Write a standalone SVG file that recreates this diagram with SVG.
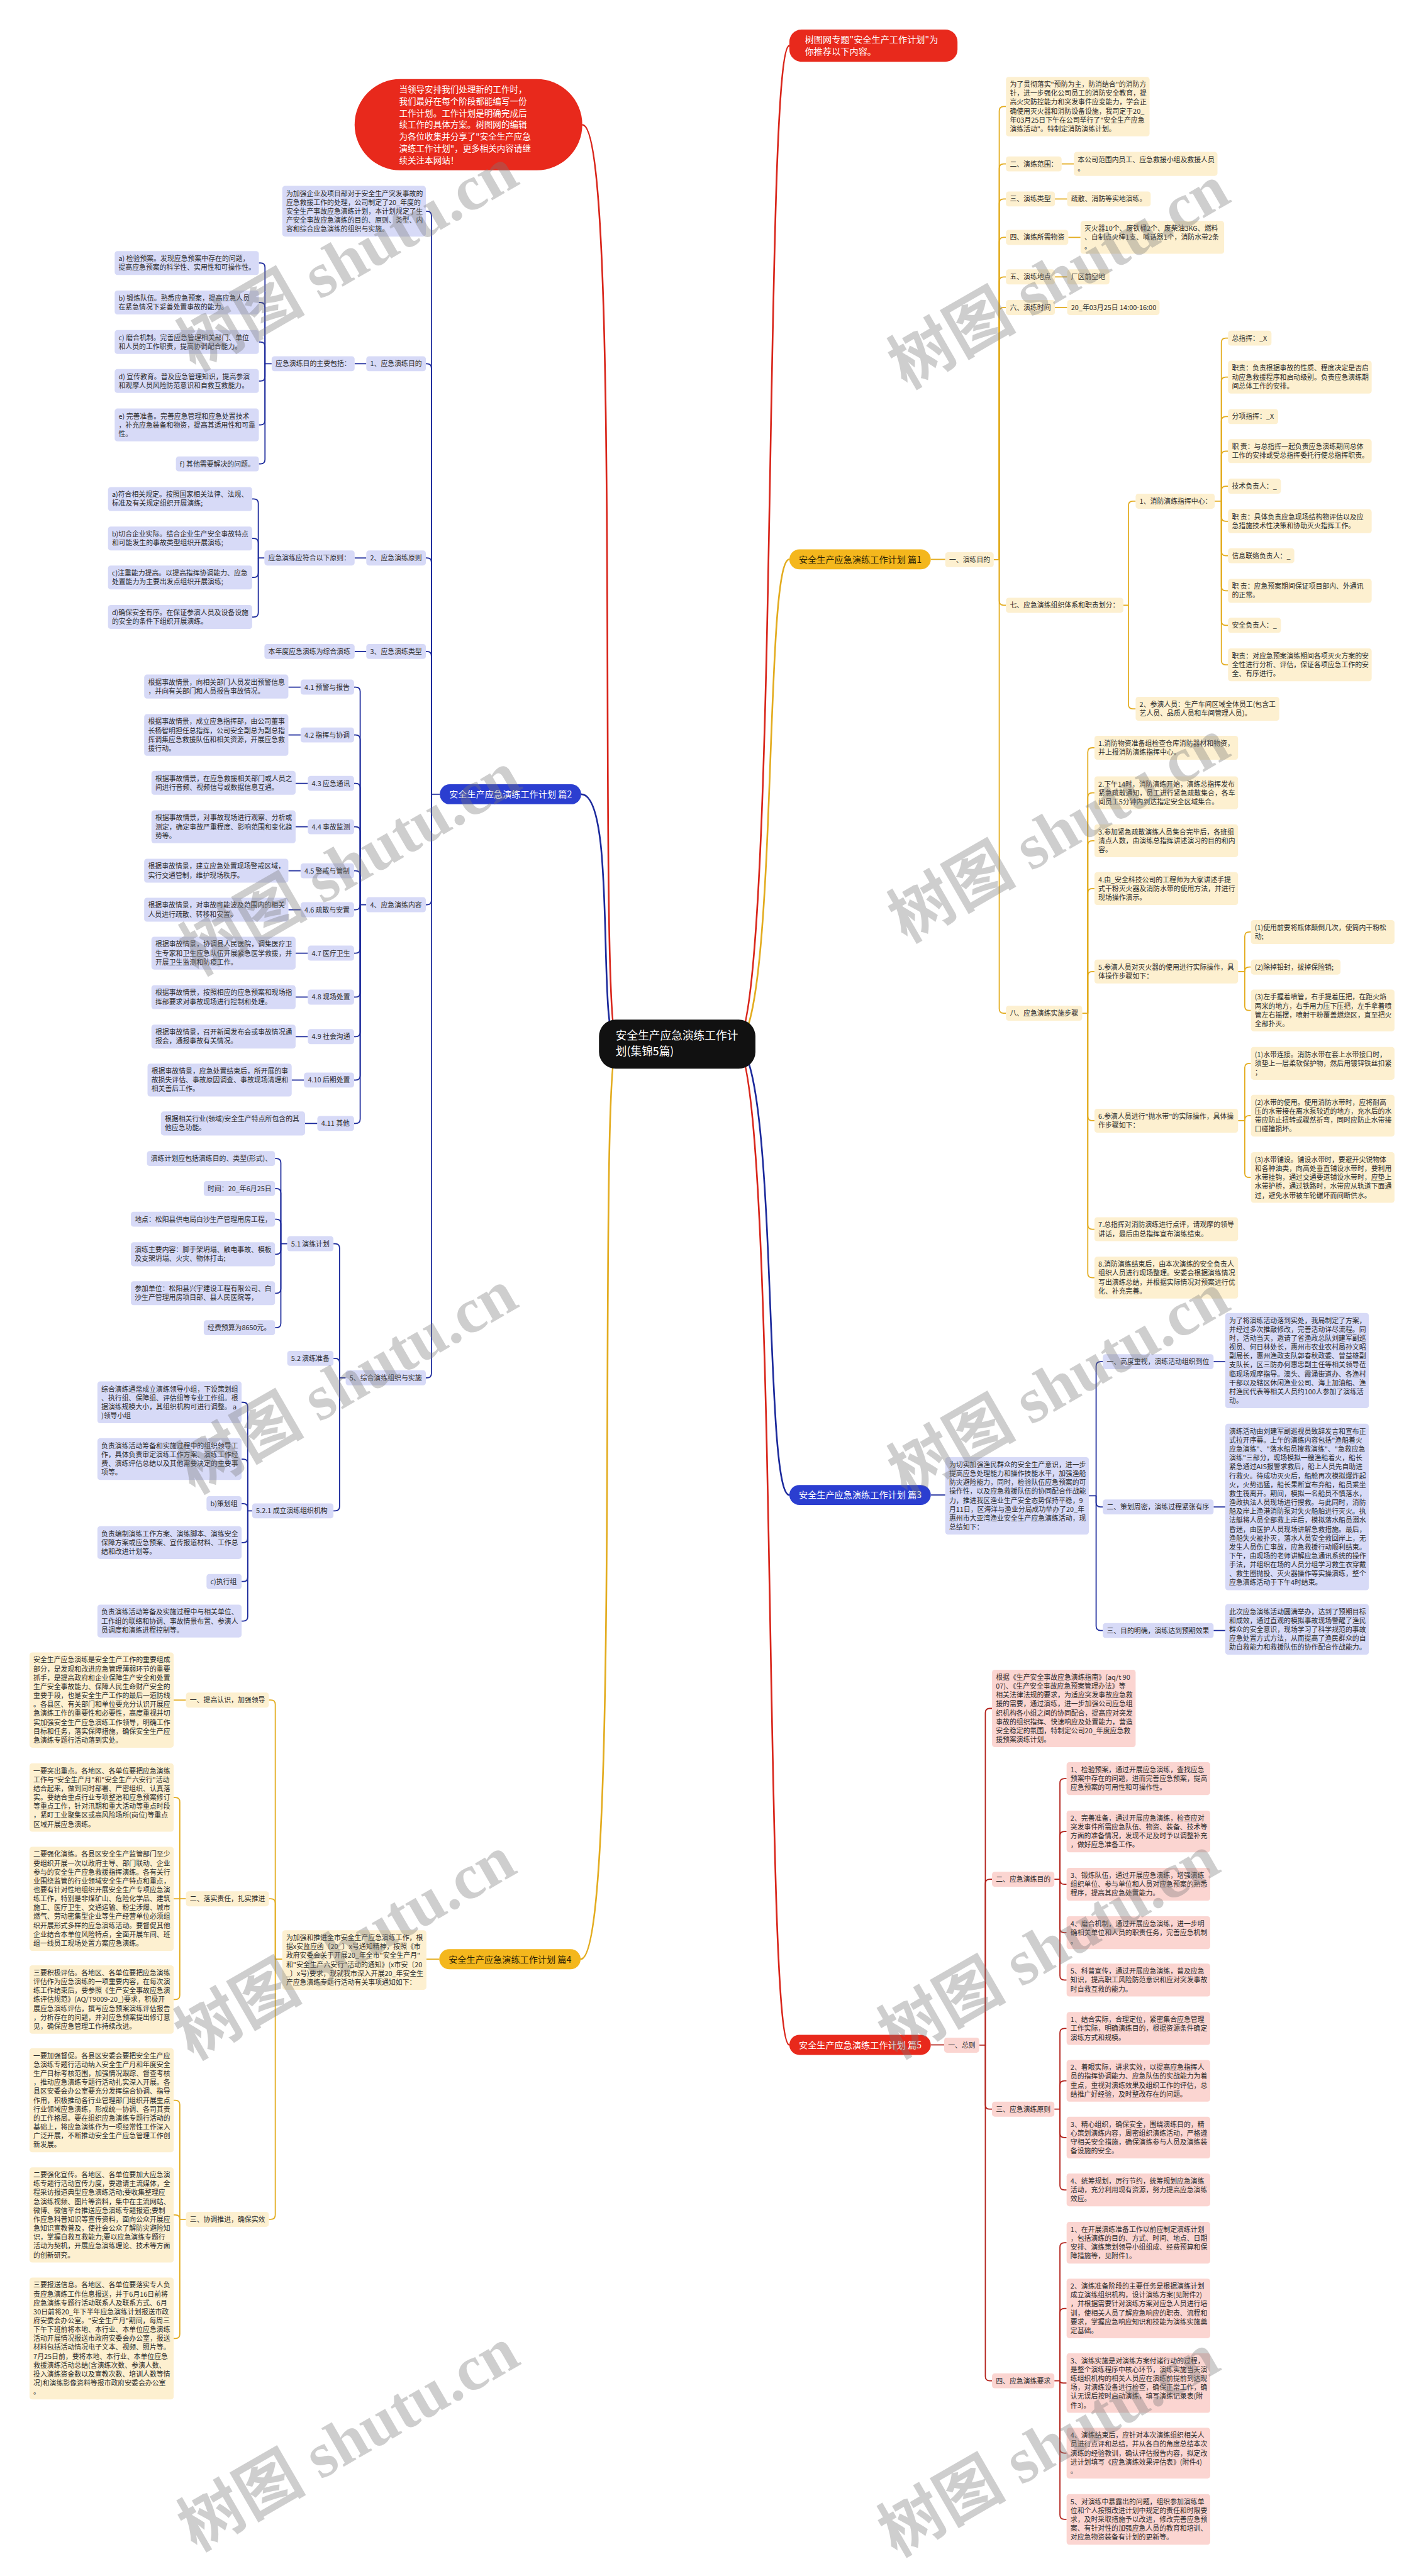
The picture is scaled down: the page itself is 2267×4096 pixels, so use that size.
<svg xmlns="http://www.w3.org/2000/svg" width="2267" height="4096" viewBox="0 0 2267 4096">
<style>
.t{font-family:"Noto Sans CJK SC","Noto Sans",sans-serif;font-size:12.3px;fill:#2b2b2b}
.h{font-family:"Noto Sans CJK SC","Noto Sans",sans-serif;font-size:16px}
.rt{font-family:"Noto Sans CJK SC","Noto Sans",sans-serif;font-size:20px;fill:#fff}
.ct{font-family:"Noto Sans CJK SC","Noto Sans",sans-serif;font-size:15.3px;fill:#fff}
rect.y{fill:#fdf0d0}
rect.b{fill:#d7daf7}
rect.p{fill:#fbd5d1}
.ly{fill:none;stroke:#e3ac1f;stroke-width:2}
.lb{fill:none;stroke:#1c2a9c;stroke-width:2}
.lp{fill:none;stroke:#b3211b;stroke-width:2}
.lr{fill:none;stroke:#d9261b;stroke-width:2}
.m{stroke-width:3}
.wm{font-family:"Liberation Serif","Noto Sans CJK SC",serif;font-size:115px;font-weight:bold;fill:#7a7a7a;opacity:.36}
</style>
<rect x="0" y="0" width="2267" height="4096" fill="#fff"/>
<g transform="scale(0.885)">
<g id="connectors">
<path class="lr m" d="M1320,1876 C1400,1876 1370,82 1418,82"/>
<path class="lr m" d="M1110,1876 C1070,1876 1120,224 1046,224"/>
<path class="ly m" d="M1320,1876 C1400,1876 1370,1005 1418,1005"/>
<path class="ly m" d="M1110,1876 C1070,1876 1120,3520 1043,3520"/>
<path class="lb m" d="M1110,1876 C1070,1876 1110,1427 1044,1427"/>
<path class="lb m" d="M1320,1876 C1400,1876 1370,2686 1418,2686"/>
<path class="lr m" d="M1320,1876 C1400,1876 1370,3674 1418,3674"/>
<path class="ly" d="M1672,1005 H1698"/>
<path class="ly" d="M1785,1005.5 H1795 V199.5 Q1795,191.5 1803,191.5 H1807"/>
<path class="ly" d="M1795,1005.5 V302.5 Q1795,294.5 1803,294.5 H1807"/>
<path class="ly" d="M1795,1005.5 V365.5 Q1795,357.5 1803,357.5 H1807"/>
<path class="ly" d="M1795,1005.5 V434.5 Q1795,426.5 1803,426.5 H1807"/>
<path class="ly" d="M1795,1005.5 V505.5 Q1795,497.5 1803,497.5 H1807"/>
<path class="ly" d="M1795,1005.5 V560.5 Q1795,552.5 1803,552.5 H1807"/>
<path class="ly" d="M1795,1005.5 V1079.5 Q1795,1087.5 1803,1087.5 H1807"/>
<path class="ly" d="M1795,1005.5 V1812.5 Q1795,1820.5 1803,1820.5 H1807"/>
<path class="ly" d="M1907,294.5 H1929"/>
<path class="ly" d="M1895,357.5 H1917"/>
<path class="ly" d="M1919,426.5 H1941"/>
<path class="ly" d="M1895,497.5 H1917"/>
<path class="ly" d="M1895,552.5 H1917"/>
<path class="ly" d="M2018,1087.5 H2027 V908.5 Q2027,900.5 2035,900.5 H2040"/>
<path class="ly" d="M2027,1087.5 V1265.5 Q2027,1273.5 2035,1273.5 H2040"/>
<path class="ly" d="M2182,900.5 H2194 V615.5 Q2194,607.5 2202,607.5 H2206"/>
<path class="ly" d="M2194,900.5 V685.5 Q2194,677.5 2202,677.5 H2206"/>
<path class="ly" d="M2194,900.5 V756.5 Q2194,748.5 2202,748.5 H2206"/>
<path class="ly" d="M2194,900.5 V818.5 Q2194,810.5 2202,810.5 H2206"/>
<path class="ly" d="M2194,900.5 V881.5 Q2194,873.5 2202,873.5 H2206"/>
<path class="ly" d="M2194,900.5 V928.5 Q2194,936.5 2202,936.5 H2206"/>
<path class="ly" d="M2194,900.5 V990.5 Q2194,998.5 2202,998.5 H2206"/>
<path class="ly" d="M2194,900.5 V1053.5 Q2194,1061.5 2202,1061.5 H2206"/>
<path class="ly" d="M2194,900.5 V1115.5 Q2194,1123.5 2202,1123.5 H2206"/>
<path class="ly" d="M2194,900.5 V1186.5 Q2194,1194.5 2202,1194.5 H2206"/>
<path class="ly" d="M1944,1820.5 H1954 V1351.5 Q1954,1343.5 1962,1343.5 H1966"/>
<path class="ly" d="M1954,1820.5 V1432.5 Q1954,1424.5 1962,1424.5 H1966"/>
<path class="ly" d="M1954,1820.5 V1518.5 Q1954,1510.5 1962,1510.5 H1966"/>
<path class="ly" d="M1954,1820.5 V1604.5 Q1954,1596.5 1962,1596.5 H1966"/>
<path class="ly" d="M1954,1820.5 V1753.5 Q1954,1745.5 1962,1745.5 H1966"/>
<path class="ly" d="M1954,1820.5 V2005.5 Q1954,2013.5 1962,2013.5 H1966"/>
<path class="ly" d="M1954,1820.5 V2200.5 Q1954,2208.5 1962,2208.5 H1966"/>
<path class="ly" d="M1954,1820.5 V2287.5 Q1954,2295.5 1962,2295.5 H1966"/>
<path class="ly" d="M2224,1745.5 H2236 V1682.5 Q2236,1674.5 2244,1674.5 H2247"/>
<path class="ly" d="M2236,1745.5 Q2236,1737.5 2244,1737.5 H2247"/>
<path class="ly" d="M2236,1745.5 V1807.5 Q2236,1815.5 2244,1815.5 H2247"/>
<path class="ly" d="M2224,2013.5 H2236 V1918.5 Q2236,1910.5 2244,1910.5 H2247"/>
<path class="ly" d="M2236,2013.5 Q2236,2004.5 2244,2004.5 H2247"/>
<path class="ly" d="M2236,2013.5 V2107.5 Q2236,2115.5 2244,2115.5 H2247"/>
<path class="ly" d="M789,3520 H766"/>
<path class="ly" d="M507,3520 H494.5 V3062.5 Q494.5,3054.5 486.5,3054.5 H483"/>
<path class="ly" d="M494.5,3520 V3419.5 Q494.5,3411.5 486.5,3411.5 H483"/>
<path class="ly" d="M494.5,3520 V3979.5 Q494.5,3987.5 486.5,3987.5 H483"/>
<path class="ly" d="M334,3054.5 H312"/>
<path class="ly" d="M334,3411.5 H323 V3237.5 Q323,3229.5 315,3229.5 H312"/>
<path class="ly" d="M323,3411.5 H312"/>
<path class="ly" d="M323,3411.5 V3584.5 Q323,3592.5 315,3592.5 H312"/>
<path class="ly" d="M334,3987.5 H323 V3781.5 Q323,3773.5 315,3773.5 H312"/>
<path class="ly" d="M323,3987.5 Q323,3979.5 315,3979.5 H312"/>
<path class="ly" d="M323,3987.5 V4193.5 Q323,4201.5 315,4201.5 H312"/>
<path class="lb" d="M1672,2686 H1698"/>
<path class="lb" d="M1956,2687.5 H1969 V2454.5 Q1969,2446.5 1977,2446.5 H1981"/>
<path class="lb" d="M1969,2687.5 V2699.5 Q1969,2707.5 1977,2707.5 H1981"/>
<path class="lb" d="M1969,2687.5 V2921.5 Q1969,2929.5 1977,2929.5 H1981"/>
<path class="lb" d="M2180,2446.5 H2201"/>
<path class="lb" d="M2180,2707.5 H2201"/>
<path class="lb" d="M2180,2929.5 H2201"/>
<path class="lb" d="M790,1427 H775 V387.5 Q775,379.5 767,379.5 H765"/>
<path class="lb" d="M775,1427 V661.5 Q775,653.5 767,653.5 H765"/>
<path class="lb" d="M775,1427 V1010.5 Q775,1002.5 767,1002.5 H765"/>
<path class="lb" d="M775,1427 V1178.5 Q775,1170.5 767,1170.5 H765"/>
<path class="lb" d="M775,1427 V1617.5 Q775,1625.5 767,1625.5 H765"/>
<path class="lb" d="M775,1427 V2467.5 Q775,2475.5 767,2475.5 H765"/>
<path class="lb" d="M658,653.5 H637"/>
<path class="lb" d="M488,653.5 H476 V480.5 Q476,472.5 468,472.5 H465"/>
<path class="lb" d="M476,653.5 V551.5 Q476,543.5 468,543.5 H465"/>
<path class="lb" d="M476,653.5 V622.5 Q476,614.5 468,614.5 H465"/>
<path class="lb" d="M476,653.5 V676.5 Q476,684.5 468,684.5 H465"/>
<path class="lb" d="M476,653.5 V755.5 Q476,763.5 468,763.5 H465"/>
<path class="lb" d="M476,653.5 V825.5 Q476,833.5 468,833.5 H465"/>
<path class="lb" d="M658,1002.5 H637"/>
<path class="lb" d="M475,1002.5 H464 V904.5 Q464,896.5 456,896.5 H453"/>
<path class="lb" d="M464,1002.5 V975.5 Q464,967.5 456,967.5 H453"/>
<path class="lb" d="M464,1002.5 V1029.5 Q464,1037.5 456,1037.5 H453"/>
<path class="lb" d="M464,1002.5 V1100.5 Q464,1108.5 456,1108.5 H453"/>
<path class="lb" d="M658,1170.5 H637"/>
<path class="lb" d="M658,1625.5 H647 V1242.5 Q647,1234.5 639,1234.5 H636"/>
<path class="lb" d="M647,1625.5 V1328.5 Q647,1320.5 639,1320.5 H636"/>
<path class="lb" d="M647,1625.5 V1415.5 Q647,1407.5 639,1407.5 H636"/>
<path class="lb" d="M647,1625.5 V1493.5 Q647,1485.5 639,1485.5 H636"/>
<path class="lb" d="M647,1625.5 V1572.5 Q647,1564.5 639,1564.5 H636"/>
<path class="lb" d="M647,1625.5 Q647,1634.5 639,1634.5 H636"/>
<path class="lb" d="M647,1625.5 V1704.5 Q647,1712.5 639,1712.5 H636"/>
<path class="lb" d="M647,1625.5 V1783.5 Q647,1791.5 639,1791.5 H636"/>
<path class="lb" d="M647,1625.5 V1854.5 Q647,1862.5 639,1862.5 H636"/>
<path class="lb" d="M647,1625.5 V1932.5 Q647,1940.5 639,1940.5 H636"/>
<path class="lb" d="M647,1625.5 V2010.5 Q647,2018.5 639,2018.5 H636"/>
<path class="lb" d="M540,1234.5 H518 M540,1320.5 H518 M553,1407.5 H531 M553,1485.5 H531 M540,1564.5 H518 M540,1634.5 H518 M553,1712.5 H531 M553,1791.5 H531 M553,1862.5 H531 M546,1940.5 H524 M570,2018.5 H548"/>
<path class="lb" d="M621,2475.5 H610 V2242.5 Q610,2234.5 602,2234.5 H599"/>
<path class="lb" d="M610,2475.5 V2448.5 Q610,2440.5 602,2440.5 H599"/>
<path class="lb" d="M610,2475.5 V2706.5 Q610,2714.5 602,2714.5 H599"/>
<path class="lb" d="M516,2234.5 H504.5 V2089.5 Q504.5,2081.5 496.5,2081.5 H494"/>
<path class="lb" d="M504.5,2234.5 V2143.5 Q504.5,2135.5 496.5,2135.5 H494"/>
<path class="lb" d="M504.5,2234.5 V2198.5 Q504.5,2190.5 496.5,2190.5 H494"/>
<path class="lb" d="M504.5,2234.5 V2245.5 Q504.5,2253.5 496.5,2253.5 H494"/>
<path class="lb" d="M504.5,2234.5 V2315.5 Q504.5,2323.5 496.5,2323.5 H494"/>
<path class="lb" d="M504.5,2234.5 V2377.5 Q504.5,2385.5 496.5,2385.5 H494"/>
<path class="lb" d="M453,2714.5 H445 V2527.5 Q445,2519.5 437,2519.5 H434"/>
<path class="lb" d="M445,2714.5 V2629.5 Q445,2621.5 437,2621.5 H434"/>
<path class="lb" d="M445,2714.5 V2709.5 Q445,2701.5 437,2701.5 H434"/>
<path class="lb" d="M445,2714.5 V2763.5 Q445,2771.5 437,2771.5 H434"/>
<path class="lb" d="M445,2714.5 V2833.5 Q445,2841.5 437,2841.5 H434"/>
<path class="lb" d="M445,2714.5 V2904.5 Q445,2912.5 437,2912.5 H434"/>
<path class="lp" d="M1672,3674 H1696"/>
<path class="lp" d="M1759,3674.5 H1770 V3077.5 Q1770,3069.5 1778,3069.5 H1782"/>
<path class="lp" d="M1770,3674.5 V3384.5 Q1770,3376.5 1778,3376.5 H1782"/>
<path class="lp" d="M1770,3674.5 V3781.5 Q1770,3789.5 1778,3789.5 H1782"/>
<path class="lp" d="M1770,3674.5 V4269.5 Q1770,4277.5 1778,4277.5 H1782"/>
<path class="lp" d="M1894,3376.5 H1904 V3203.5 Q1904,3195.5 1912,3195.5 H1916"/>
<path class="lp" d="M1904,3376.5 V3298.5 Q1904,3290.5 1912,3290.5 H1916"/>
<path class="lp" d="M1904,3376.5 Q1904,3385.5 1912,3385.5 H1916"/>
<path class="lp" d="M1904,3376.5 V3464.5 Q1904,3472.5 1912,3472.5 H1916"/>
<path class="lp" d="M1904,3376.5 V3549.5 Q1904,3557.5 1912,3557.5 H1916"/>
<path class="lp" d="M1894,3789.5 H1904 V3652.5 Q1904,3644.5 1912,3644.5 H1916"/>
<path class="lp" d="M1904,3789.5 V3746.5 Q1904,3738.5 1912,3738.5 H1916"/>
<path class="lp" d="M1904,3789.5 V3832.5 Q1904,3840.5 1912,3840.5 H1916"/>
<path class="lp" d="M1904,3789.5 V3926.5 Q1904,3934.5 1912,3934.5 H1916"/>
<path class="lp" d="M1894,4277.5 H1904 V4037.5 Q1904,4029.5 1912,4029.5 H1916"/>
<path class="lp" d="M1904,4277.5 V4155.5 Q1904,4147.5 1912,4147.5 H1916"/>
<path class="lp" d="M1904,4277.5 Q1904,4281.5 1910,4281.5 H1916"/>
<path class="lp" d="M1904,4277.5 V4399.5 Q1904,4407.5 1912,4407.5 H1916"/>
<path class="lp" d="M1904,4277.5 V4518.5 Q1904,4526.5 1912,4526.5 H1916"/>
</g>

<g id="root"><rect x="1076" y="1832" width="281" height="88" rx="30" fill="#111"/><text class="rt" x="1106" y="1868">安全生产应急演练工作计</text><text class="rt" x="1106" y="1896">划(集锦5篇)</text></g>

<g id="top-red"><rect x="1418" y="53" width="302" height="58" rx="22" fill="#e8291c"/><text class="h" fill="#fff" x="1446" y="77">树图网专题"安全生产工作计划"为</text><text class="h" fill="#fff" x="1446" y="98">你推荐以下内容。</text></g>

<g id="left-red"><rect x="637" y="142" width="409" height="164" rx="82" fill="#e8291c"/>
<text class="ct"><tspan x="717" y="166">当领导安排我们处理新的工作时，</tspan><tspan x="717" y="187.3">我们最好在每个阶段都能编写一份</tspan><tspan x="717" y="208.6">工作计划。工作计划是明确完成后</tspan><tspan x="717" y="229.9">续工作的具体方案。树图网的编辑</tspan><tspan x="717" y="251.2">为各位收集并分享了"安全生产应急</tspan><tspan x="717" y="272.5">演练工作计划"，更多相关内容请继</tspan><tspan x="717" y="293.8">续关注本网站！</tspan></text></g>

<!-- 篇1 -->
<g id="p1"><rect x="1418" y="987" width="254" height="36" rx="18" fill="#f4b71d"/><text class="h" fill="#2a2204" x="1435" y="1011">安全生产应急演练工作计划 篇1</text></g>
<g id="p1-a"><rect class="y" rx="5" x="1698" y="992" width="87" height="27"/><text class="t" x="1705" y="1010">一、演练目的</text></g>
<g id="p1-intro"><rect class="y" rx="5" x="1807" y="138" width="258" height="107"/><text class="t"><tspan x="1814" y="156">为了贯彻落实"预防为主，防消结合"的消防方</tspan><tspan x="1814" y="172">针，进一步强化公司员工的消防安全教育，提</tspan><tspan x="1814" y="188">高火灾防控能力和突发事件应变能力，学会正</tspan><tspan x="1814" y="204">确使用灭火器和消防设备设施，我司定于20_</tspan><tspan x="1814" y="220">年03月25日下午在公司举行了"安全生产应急</tspan><tspan x="1814" y="236">演练活动"。特制定消防演练计划。</tspan></text></g>
<g id="p1-2"><rect class="y" rx="5" x="1807" y="281" width="100" height="27"/><text class="t" x="1814" y="299">二、演练范围：</text></g>
<g id="p1-2a"><rect class="y" rx="5" x="1929" y="273" width="258" height="43"/><text class="t"><tspan x="1936" y="291">本公司范围内员工、应急救援小组及救援人员</tspan><tspan x="1936" y="307">。</tspan></text></g>
<g id="p1-3"><rect class="y" rx="5" x="1807" y="344" width="88" height="27"/><text class="t" x="1814" y="362">三、演练类型</text></g>
<g id="p1-3a"><rect class="y" rx="5" x="1917" y="344" width="150" height="27"/><text class="t" x="1924" y="362">疏散、消防等实地演练。</text></g>
<g id="p1-4"><rect class="y" rx="5" x="1807" y="413" width="112" height="27"/><text class="t" x="1814" y="431">四、演练所需物资</text></g>
<g id="p1-4a"><rect class="y" rx="5" x="1941" y="397" width="258" height="59"/><text class="t"><tspan x="1948" y="415">灭火器10个、废铁桶2个、废柴油3KG、燃料</tspan><tspan x="1948" y="431">、自制点火棒1支、喊话器1个，消防水带2条</tspan><tspan x="1948" y="447">。</tspan></text></g>
<g id="p1-5"><rect class="y" rx="5" x="1807" y="484" width="88" height="27"/><text class="t" x="1814" y="502">五、演练地点</text></g>
<g id="p1-5a"><rect class="y" rx="5" x="1917" y="484" width="76" height="27"/><text class="t" x="1924" y="502">厂区前空地</text></g>
<g id="p1-6"><rect class="y" rx="5" x="1807" y="539" width="88" height="27"/><text class="t" x="1814" y="557">六、演练时间</text></g>
<g id="p1-6a"><rect class="y" rx="5" x="1917" y="539" width="166" height="27"/><text class="t" x="1924" y="557">20_年03月25日 14:00-16:00</text></g>
<g id="p1-7"><rect class="y" rx="5" x="1807" y="1074" width="211" height="27"/><text class="t" x="1814" y="1092">七、应急演练组织体系和职责划分：</text></g>
<g id="p1-7-1"><rect class="y" rx="5" x="2040" y="887" width="142" height="27"/><text class="t" x="2047" y="905">1、消防演练指挥中心：</text></g>
<g id="p1-7-1a"><rect class="y" rx="5" x="2206" y="594" width="78" height="27"/><text class="t" x="2213" y="612">总指挥：_X</text></g>
<g id="p1-7-1b"><rect class="y" rx="5" x="2206" y="648" width="258" height="59"/><text class="t"><tspan x="2213" y="666">职责：负责根据事故的性质、程度决定是否启</tspan><tspan x="2213" y="682">动应急救援程序和启动级别。负责应急演练期</tspan><tspan x="2213" y="698">间总体工作的安排。</tspan></text></g>
<g id="p1-7-1c"><rect class="y" rx="5" x="2206" y="735" width="90" height="27"/><text class="t" x="2213" y="753">分项指挥：_X</text></g>
<g id="p1-7-1d"><rect class="y" rx="5" x="2206" y="789" width="258" height="43"/><text class="t"><tspan x="2213" y="807">职 责：与总指挥一起负责应急演练期间总体</tspan><tspan x="2213" y="823">工作的安排或受总指挥委托行使总指挥职责。</tspan></text></g>
<g id="p1-7-1e"><rect class="y" rx="5" x="2206" y="860" width="95" height="27"/><text class="t" x="2213" y="878">技术负责人：_</text></g>
<g id="p1-7-1f"><rect class="y" rx="5" x="2206" y="915" width="258" height="43"/><text class="t"><tspan x="2213" y="933">职 责：具体负责应急现场结构物评估以及应</tspan><tspan x="2213" y="949">急措施技术性决策和协助灭火指挥工作。</tspan></text></g>
<g id="p1-7-1g"><rect class="y" rx="5" x="2206" y="985" width="119" height="27"/><text class="t" x="2213" y="1003">信息联络负责人：_</text></g>
<g id="p1-7-1h"><rect class="y" rx="5" x="2206" y="1040" width="258" height="43"/><text class="t"><tspan x="2213" y="1058">职 责：应急预案期间保证项目部内、外通讯</tspan><tspan x="2213" y="1074">的正常。</tspan></text></g>
<g id="p1-7-1i"><rect class="y" rx="5" x="2206" y="1110" width="95" height="27"/><text class="t" x="2213" y="1128">安全负责人：_</text></g>
<g id="p1-7-1j"><rect class="y" rx="5" x="2206" y="1165" width="258" height="59"/><text class="t"><tspan x="2213" y="1183">职责：对应急预案演练期间各项灭火方案的安</tspan><tspan x="2213" y="1199">全性进行分析、评估，保证各项应急工作的安</tspan><tspan x="2213" y="1215">全、有序进行。</tspan></text></g>
<g id="p1-7-2"><rect class="y" rx="5" x="2040" y="1252" width="258" height="43"/><text class="t"><tspan x="2047" y="1270">2、参演人员：生产车间区域全体员工(包含工</tspan><tspan x="2047" y="1286">艺人员、品质人员和车间管理人员)。</tspan></text></g>
<g id="p1-8"><rect class="y" rx="5" x="1807" y="1807" width="137" height="27"/><text class="t" x="1814" y="1825">八、应急演练实施步骤</text></g>
<g id="p1-8-1"><rect class="y" rx="5" x="1966" y="1322" width="258" height="43"/><text class="t"><tspan x="1973" y="1340">1.消防物资准备组检查仓库消防器材和物资，</tspan><tspan x="1973" y="1356">并上报消防演练指挥中心。</tspan></text></g>
<g id="p1-8-2"><rect class="y" rx="5" x="1966" y="1395" width="258" height="59"/><text class="t"><tspan x="1973" y="1413">2.下午14时，消防演练开始，演练总指挥发布</tspan><tspan x="1973" y="1429">紧急疏散通知，员工进行紧急疏散集合，各车</tspan><tspan x="1973" y="1445">间员工5分钟内到达指定安全区域集合。</tspan></text></g>
<g id="p1-8-3"><rect class="y" rx="5" x="1966" y="1481" width="258" height="59"/><text class="t"><tspan x="1973" y="1499">3.参加紧急疏散演练人员集合完毕后，各班组</tspan><tspan x="1973" y="1515">清点人数，由演练总指挥讲述演习的目的和内</tspan><tspan x="1973" y="1531">容。</tspan></text></g>
<g id="p1-8-4"><rect class="y" rx="5" x="1966" y="1567" width="258" height="59"/><text class="t"><tspan x="1973" y="1585">4.由_安全科技公司的工程师为大家讲述手提</tspan><tspan x="1973" y="1601">式干粉灭火器及消防水带的使用方法，并进行</tspan><tspan x="1973" y="1617">现场操作演示。</tspan></text></g>
<g id="p1-8-5"><rect class="y" rx="5" x="1966" y="1724" width="258" height="43"/><text class="t"><tspan x="1973" y="1742">5.参演人员对灭火器的使用进行实际操作，具</tspan><tspan x="1973" y="1758">体操作步骤如下：</tspan></text></g>
<g id="p1-8-5a"><rect class="y" rx="5" x="2247" y="1653" width="258" height="43"/><text class="t"><tspan x="2254" y="1671">(1)使用前要将瓶体颠倒几次，使筒内干粉松</tspan><tspan x="2254" y="1687">动;</tspan></text></g>
<g id="p1-8-5b"><rect class="y" rx="5" x="2247" y="1724" width="161" height="27"/><text class="t" x="2254" y="1742">(2)除掉铅封，拔掉保险销;</text></g>
<g id="p1-8-5c"><rect class="y" rx="5" x="2247" y="1778" width="258" height="75"/><text class="t"><tspan x="2254" y="1796">(3)左手握着喷管，右手提着压把，在距火焰</tspan><tspan x="2254" y="1812">两米的地方，右手用力压下压把，左手拿着喷</tspan><tspan x="2254" y="1828">管左右摇摆，喷射干粉覆盖燃烧区，直至把火</tspan><tspan x="2254" y="1844">全部扑灭。</tspan></text></g>
<g id="p1-8-6"><rect class="y" rx="5" x="1966" y="1992" width="258" height="43"/><text class="t"><tspan x="1973" y="2010">6.参演人员进行"抛水带"的实际操作，具体操</tspan><tspan x="1973" y="2026">作步骤如下：</tspan></text></g>
<g id="p1-8-6a"><rect class="y" rx="5" x="2247" y="1881" width="258" height="59"/><text class="t"><tspan x="2254" y="1899">(1)水带连接。消防水带在套上水带接口时，</tspan><tspan x="2254" y="1915">须垫上一层柔软保护物，然后用镀锌铁丝扣紧</tspan><tspan x="2254" y="1931">；</tspan></text></g>
<g id="p1-8-6b"><rect class="y" rx="5" x="2247" y="1967" width="258" height="75"/><text class="t"><tspan x="2254" y="1985">(2)水带的使用。使用消防水带时，应将耐高</tspan><tspan x="2254" y="2001">压的水带接在离水泵较近的地方，充水后的水</tspan><tspan x="2254" y="2017">带应防止扭转或骤然折弯，同时应防止水带接</tspan><tspan x="2254" y="2033">口碰撞损坏。</tspan></text></g>
<g id="p1-8-6c"><rect class="y" rx="5" x="2247" y="2070" width="258" height="91"/><text class="t"><tspan x="2254" y="2088">(3)水带铺设。铺设水带时，要避开尖锐物体</tspan><tspan x="2254" y="2104">和各种油类，向高处垂直铺设水带时，要利用</tspan><tspan x="2254" y="2120">水带挂钩，通过交通要道铺设水带时，应垫上</tspan><tspan x="2254" y="2136">水带护桥，通过铁路时，水带应从轨道下面通</tspan><tspan x="2254" y="2152">过，避免水带被车轮碾坏而间断供水。</tspan></text></g>
<g id="p1-8-7"><rect class="y" rx="5" x="1966" y="2187" width="258" height="43"/><text class="t"><tspan x="1973" y="2205">7.总指挥对消防演练进行点评，请观摩的领导</tspan><tspan x="1973" y="2221">讲话，最后由总指挥宣布演练结束。</tspan></text></g>
<g id="p1-8-8"><rect class="y" rx="5" x="1966" y="2258" width="258" height="75"/><text class="t"><tspan x="1973" y="2276">8.消防演练结束后，由本次演练的安全负责人</tspan><tspan x="1973" y="2292">组织人员进行现场整理。安委会根据演练情况</tspan><tspan x="1973" y="2308">写出演练总结，并根据实际情况对预案进行优</tspan><tspan x="1973" y="2324">化、补充完善。</tspan></text></g>

<!-- 篇3 -->
<g id="p3"><rect x="1418" y="2668" width="254" height="36" rx="18" fill="#2b3ed0"/><text class="h" fill="#fff" x="1435" y="2692">安全生产应急演练工作计划 篇3</text></g>
<g id="p3-intro"><rect class="b" rx="5" x="1698" y="2618" width="258" height="139"/><text class="t"><tspan x="1705" y="2636">为切实加强渔民群众的安全生产意识，进一步</tspan><tspan x="1705" y="2652">提高应急处理能力和操作技能水平，加强渔船</tspan><tspan x="1705" y="2668">防灾避险能力，同时，检验队伍应急预案的可</tspan><tspan x="1705" y="2684">操作性，以及应急救援队伍的协同配合作战能</tspan><tspan x="1705" y="2700">力，推进我区渔业生产安全态势保持平稳，9</tspan><tspan x="1705" y="2716">月11日，区海洋与渔业分局成功举办了20_年</tspan><tspan x="1705" y="2732">惠州市大亚湾渔业安全生产应急演练活动，现</tspan><tspan x="1705" y="2748">总结如下：</tspan></text></g>
<g id="p3-1"><rect class="b" rx="5" x="1981" y="2433" width="199" height="27"/><text class="t" x="1988" y="2451">一、高度重视，演练活动组织到位</text></g>
<g id="p3-1a"><rect class="b" rx="5" x="2201" y="2359" width="258" height="171"/><text class="t"><tspan x="2208" y="2377">为了将演练活动落到实处，我局制定了方案，</tspan><tspan x="2208" y="2393">并经过多次推敲修改，完善活动详尽流程。同</tspan><tspan x="2208" y="2409">时，活动当天，邀请了省渔政总队刘建军副巡</tspan><tspan x="2208" y="2425">视员、何日林处长，惠州市农业农村局孙文昭</tspan><tspan x="2208" y="2441">副局长，惠州渔政支队郭春秋政委、曾益雄副</tspan><tspan x="2208" y="2457">支队长，区三防办何惠忠副主任等相关领导莅</tspan><tspan x="2208" y="2473">临现场观摩指导。澳头、霞涌街道办、各渔村</tspan><tspan x="2208" y="2489">干部以及辖区休闲渔业公司、海上加油船、渔</tspan><tspan x="2208" y="2505">村渔民代表等相关人员约100人参加了演练活</tspan><tspan x="2208" y="2521">动。</tspan></text></g>
<g id="p3-2"><rect class="b" rx="5" x="1981" y="2694" width="199" height="27"/><text class="t" x="1988" y="2712">二、策划周密，演练过程紧张有序</text></g>
<g id="p3-2a"><rect class="b" rx="5" x="2201" y="2558" width="258" height="299"/><text class="t"><tspan x="2208" y="2576">演练活动由刘建军副巡视员致辞发言和宣布正</tspan><tspan x="2208" y="2592">式拉开序幕。上午的演练内容包括"渔船着火</tspan><tspan x="2208" y="2608">应急演练"、"落水船员搜救演练"、"急救应急</tspan><tspan x="2208" y="2624">演练"三部分，现场模拟一艘渔船着火，船长</tspan><tspan x="2208" y="2640">紧急通过AIS报警求救后，船上人员先自助进</tspan><tspan x="2208" y="2656">行救火。待成功灭火后，船舱再次模拟爆炸起</tspan><tspan x="2208" y="2672">火，火势迅猛，船长果断宣布弃船，船员乘坐</tspan><tspan x="2208" y="2688">救生筏离开。期间，模拟一名船员不慎落水，</tspan><tspan x="2208" y="2704">渔政执法人员现场进行搜救。与此同时，消防</tspan><tspan x="2208" y="2720">船及岸上渔港消防泵对失火船舶进行灭火。执</tspan><tspan x="2208" y="2736">法艇将人员全部救上岸后，模拟落水船员溺水</tspan><tspan x="2208" y="2752">昏迷，由医护人员现场讲解急救措施。最后，</tspan><tspan x="2208" y="2768">渔船失火被扑灭，落水人员安全救回岸上，无</tspan><tspan x="2208" y="2784">发生人员伤亡事故，应急救援行动顺利结束。</tspan><tspan x="2208" y="2800">下午，由现场的老师讲解应急通讯系统的操作</tspan><tspan x="2208" y="2816">手法，并组织在场的人员分组学习救生衣穿戴</tspan><tspan x="2208" y="2832">、救生圈抛投、灭火器操作等实操演练，整个</tspan><tspan x="2208" y="2848">应急演练活动于下午4时结束。</tspan></text></g>
<g id="p3-3"><rect class="b" rx="5" x="1981" y="2916" width="199" height="27"/><text class="t" x="1988" y="2934">三、目的明确，演练达到预期效果</text></g>
<g id="p3-3a"><rect class="b" rx="5" x="2201" y="2882" width="258" height="91"/><text class="t"><tspan x="2208" y="2900">此次应急演练活动圆满举办，达到了预期目标</tspan><tspan x="2208" y="2916">和成效，通过直观的模拟事故现场警醒了渔民</tspan><tspan x="2208" y="2932">群众的安全意识，现场学习了科学规范的事故</tspan><tspan x="2208" y="2948">应急处置方式方法，从而提高了渔民群众的自</tspan><tspan x="2208" y="2964">助自救能力和救援队伍的协作配合作战能力。</tspan></text></g>

<!-- 篇5 -->
<g id="p5"><rect x="1418" y="3656" width="254" height="36" rx="18" fill="#e8291c"/><text class="h" fill="#fff" x="1435" y="3680">安全生产应急演练工作计划 篇5</text></g>
<g id="p5-a"><rect class="p" rx="5" x="1696" y="3661" width="63" height="27"/><text class="t" x="1703" y="3679">一、总则</text></g>
<g id="p5-intro"><rect class="p" rx="5" x="1782" y="3000" width="258" height="139"/><text class="t"><tspan x="1789" y="3018">根据《生产安全事故应急演练指南》(aq/t 90</tspan><tspan x="1789" y="3034">07)、《生产安全事故应急预案管理办法》等</tspan><tspan x="1789" y="3050">相关法律法规的要求，为适应突发事故应急救</tspan><tspan x="1789" y="3066">援的需要，通过演练，进一步加强公司应急组</tspan><tspan x="1789" y="3082">织机构各小组之间的协同配合，提高应对突发</tspan><tspan x="1789" y="3098">事故的组织指挥、快速响应及处置能力，营造</tspan><tspan x="1789" y="3114">安全稳定的氛围，特制定公司20_年度应急救</tspan><tspan x="1789" y="3130">援预案演练计划。</tspan></text></g>
<g id="p5-2"><rect class="p" rx="5" x="1782" y="3363" width="112" height="27"/><text class="t" x="1789" y="3381">二、应急演练目的</text></g>
<g id="p5-2-1"><rect class="p" rx="5" x="1916" y="3166" width="258" height="59"/><text class="t"><tspan x="1923" y="3184">1、检验预案，通过开展应急演练，查找应急</tspan><tspan x="1923" y="3200">预案中存在的问题，进而完善应急预案，提高</tspan><tspan x="1923" y="3216">应急预案的可用性和可操作性。</tspan></text></g>
<g id="p5-2-2"><rect class="p" rx="5" x="1916" y="3253" width="258" height="75"/><text class="t"><tspan x="1923" y="3271">2、完善准备，通过开展应急演练，检查应对</tspan><tspan x="1923" y="3287">突发事件所需应急队伍、物资、装备、技术等</tspan><tspan x="1923" y="3303">方面的准备情况，发现不足及时予以调整补充</tspan><tspan x="1923" y="3319">，做好应急准备工作。</tspan></text></g>
<g id="p5-2-3"><rect class="p" rx="5" x="1916" y="3356" width="258" height="59"/><text class="t"><tspan x="1923" y="3374">3、锻炼队伍，通过开展应急演练，增强演练</tspan><tspan x="1923" y="3390">组织单位、参与单位和人员对应急预案的熟悉</tspan><tspan x="1923" y="3406">程序，提高其应急处置能力。</tspan></text></g>
<g id="p5-2-4"><rect class="p" rx="5" x="1916" y="3443" width="258" height="59"/><text class="t"><tspan x="1923" y="3461">4、磨合机制，通过开展应急演练，进一步明</tspan><tspan x="1923" y="3477">确相关单位和人员的职责任务，完善应急机制</tspan><tspan x="1923" y="3493">。</tspan></text></g>
<g id="p5-2-5"><rect class="p" rx="5" x="1916" y="3528" width="258" height="59"/><text class="t"><tspan x="1923" y="3546">5、科普宣传，通过开展应急演练，普及应急</tspan><tspan x="1923" y="3562">知识，提高职工风险防范意识和应对突发事故</tspan><tspan x="1923" y="3578">时自救互救的能力。</tspan></text></g>
<g id="p5-3"><rect class="p" rx="5" x="1782" y="3776" width="112" height="27"/><text class="t" x="1789" y="3794">三、应急演练原则</text></g>
<g id="p5-3-1"><rect class="p" rx="5" x="1916" y="3615" width="258" height="59"/><text class="t"><tspan x="1923" y="3633">1、结合实际，合理定位，紧密集合应急管理</tspan><tspan x="1923" y="3649">工作实际，明确演练目的，根据资源条件确定</tspan><tspan x="1923" y="3665">演练方式和规模。</tspan></text></g>
<g id="p5-3-2"><rect class="p" rx="5" x="1916" y="3701" width="258" height="75"/><text class="t"><tspan x="1923" y="3719">2、着眼实际，讲求实效，以提高应急指挥人</tspan><tspan x="1923" y="3735">员的指挥协调能力、应急队伍的实战能力为着</tspan><tspan x="1923" y="3751">重点，重视对演练效果及组织工作的评估，总</tspan><tspan x="1923" y="3767">结推广好经验，及时整改存在的问题。</tspan></text></g>
<g id="p5-3-3"><rect class="p" rx="5" x="1916" y="3803" width="258" height="75"/><text class="t"><tspan x="1923" y="3821">3、精心组织，确保安全，围绕演练目的，精</tspan><tspan x="1923" y="3837">心策划演练内容，周密组织演练活动，严格遵</tspan><tspan x="1923" y="3853">守相关安全措施，确保演练参与人员及演练装</tspan><tspan x="1923" y="3869">备设施的安全。</tspan></text></g>
<g id="p5-3-4"><rect class="p" rx="5" x="1916" y="3905" width="258" height="59"/><text class="t"><tspan x="1923" y="3923">4、统筹规划，厉行节约，统筹规划应急演练</tspan><tspan x="1923" y="3939">活动，充分利用现有资源，努力提高应急演练</tspan><tspan x="1923" y="3955">效应。</tspan></text></g>
<g id="p5-4"><rect class="p" rx="5" x="1782" y="4264" width="112" height="27"/><text class="t" x="1789" y="4282">四、应急演练要求</text></g>
<g id="p5-4-1"><rect class="p" rx="5" x="1916" y="3992" width="258" height="75"/><text class="t"><tspan x="1923" y="4010">1、在开展演练准备工作以前应制定演练计划</tspan><tspan x="1923" y="4026">，包括演练的目的、方式、时间、地点、日期</tspan><tspan x="1923" y="4042">安排、演练策划领导小组组成、经费预算和保</tspan><tspan x="1923" y="4058">障措施等，见附件1。</tspan></text></g>
<g id="p5-4-2"><rect class="p" rx="5" x="1916" y="4094" width="258" height="107"/><text class="t"><tspan x="1923" y="4112">2、演练准备阶段的主要任务是根据演练计划</tspan><tspan x="1923" y="4128">成立演练组织机构，设计演练方案(见附件2)</tspan><tspan x="1923" y="4144">，并根据需要针对演练方案对应急人员进行培</tspan><tspan x="1923" y="4160">训，使相关人员了解应急响应的职责、流程和</tspan><tspan x="1923" y="4176">要求，掌握应急响应知识和技能为演练实施奠</tspan><tspan x="1923" y="4192">定基础。</tspan></text></g>
<g id="p5-4-3"><rect class="p" rx="5" x="1916" y="4228" width="258" height="107"/><text class="t"><tspan x="1923" y="4246">3、演练实施是对演练方案付诸行动的过程，</tspan><tspan x="1923" y="4262">是整个演练程序中核心环节，演练实施当天演</tspan><tspan x="1923" y="4278">练组织机构的相关人员应在演练前提前到达现</tspan><tspan x="1923" y="4294">场，对演练设备进行检查，确保正常工作，确</tspan><tspan x="1923" y="4310">认无误后按时启动演练，填写演练记录表(附</tspan><tspan x="1923" y="4326">件3)。</tspan></text></g>
<g id="p5-4-4"><rect class="p" rx="5" x="1916" y="4362" width="258" height="91"/><text class="t"><tspan x="1923" y="4380">4、演练结束后，应针对本次演练组织相关人</tspan><tspan x="1923" y="4396">员进行点评和总结，并从各自的角度总结本次</tspan><tspan x="1923" y="4412">演练的经验教训，确认评估报告内容，拟定改</tspan><tspan x="1923" y="4428">进计划填写《应急演练效果评估表》(附件4)</tspan><tspan x="1923" y="4444">。</tspan></text></g>
<g id="p5-4-5"><rect class="p" rx="5" x="1916" y="4481" width="258" height="91"/><text class="t"><tspan x="1923" y="4499">5、对演练中暴露出的问题，组织参加演练单</tspan><tspan x="1923" y="4515">位和个人按照改进计划中规定的责任和时限要</tspan><tspan x="1923" y="4531">求，及时采取措施予以改进，修改完善应急预</tspan><tspan x="1923" y="4547">案、有针对性的加强应急人员的教育和培训、</tspan><tspan x="1923" y="4563">对应急物资装备有计划的更新等。</tspan></text></g>

<!-- 篇2 -->
<g id="p2"><rect x="790" y="1409" width="254" height="36" rx="18" fill="#2b3ed0"/><text class="h" fill="#fff" x="807" y="1433">安全生产应急演练工作计划 篇2</text></g>
<g id="p2-intro"><rect class="b" rx="5" x="507" y="334" width="258" height="91"/><text class="t"><tspan x="514" y="352">为加强企业及项目部对于安全生产突发事故的</tspan><tspan x="514" y="368">应急救援工作的处理，公司制定了20_年度的</tspan><tspan x="514" y="384">安全生产事故应急演练计划，本计划规定了生</tspan><tspan x="514" y="400">产安全事故应急演练的目的、原则、类型、内</tspan><tspan x="514" y="416">容和综合应急演练的组织与实施。</tspan></text></g>
<g id="p2-1"><rect class="b" rx="5" x="658" y="640" width="107" height="27"/><text class="t" x="665" y="658">1、应急演练目的</text></g>
<g id="p2-1a"><rect class="b" rx="5" x="488" y="640" width="149" height="27"/><text class="t" x="495" y="658">应急演练目的主要包括：</text></g>
<g id="p2-1a-a"><rect class="b" rx="5" x="206" y="451" width="259" height="43"/><text class="t"><tspan x="213" y="469">a) 检验预案。发现应急预案中存在的问题，</tspan><tspan x="213" y="485">提高应急预案的科学性、实用性和可操作性。</tspan></text></g>
<g id="p2-1a-b"><rect class="b" rx="5" x="206" y="522" width="259" height="43"/><text class="t"><tspan x="213" y="540">b) 锻炼队伍。熟悉应急预案，提高应急人员</tspan><tspan x="213" y="556">在紧急情况下妥善处置事故的能力。</tspan></text></g>
<g id="p2-1a-c"><rect class="b" rx="5" x="206" y="593" width="259" height="43"/><text class="t"><tspan x="213" y="611">c) 磨合机制。完善应急管理相关部门、单位</tspan><tspan x="213" y="627">和人员的工作职责，提高协调配合能力。</tspan></text></g>
<g id="p2-1a-d"><rect class="b" rx="5" x="206" y="663" width="259" height="43"/><text class="t"><tspan x="213" y="681">d) 宣传教育。普及应急管理知识，提高参演</tspan><tspan x="213" y="697">和观摩人员风险防范意识和自救互救能力。</tspan></text></g>
<g id="p2-1a-e"><rect class="b" rx="5" x="206" y="734" width="259" height="59"/><text class="t"><tspan x="213" y="752">e) 完善准备。完善应急管理和应急处置技术</tspan><tspan x="213" y="768">，补充应急装备和物资，提高其适用性和可靠</tspan><tspan x="213" y="784">性。</tspan></text></g>
<g id="p2-1a-f"><rect class="b" rx="5" x="316" y="820" width="149" height="27"/><text class="t" x="323" y="838">f) 其他需要解决的问题。</text></g>
<g id="p2-2"><rect class="b" rx="5" x="658" y="989" width="107" height="27"/><text class="t" x="665" y="1007">2、应急演练原则</text></g>
<g id="p2-2a"><rect class="b" rx="5" x="475" y="989" width="162" height="27"/><text class="t" x="482" y="1007">应急演练应符合以下原则：</text></g>
<g id="p2-2a-a"><rect class="b" rx="5" x="194" y="875" width="259" height="43"/><text class="t"><tspan x="201" y="893">a)符合相关规定。按照国家相关法律、法规、</tspan><tspan x="201" y="909">标准及有关规定组织开展演练;</tspan></text></g>
<g id="p2-2a-b"><rect class="b" rx="5" x="194" y="946" width="259" height="43"/><text class="t"><tspan x="201" y="964">b)切合企业实际。结合企业生产安全事故特点</tspan><tspan x="201" y="980">和可能发生的事故类型组织开展演练;</tspan></text></g>
<g id="p2-2a-c"><rect class="b" rx="5" x="194" y="1016" width="259" height="43"/><text class="t"><tspan x="201" y="1034">c)注重能力提高。以提高指挥协调能力、应急</tspan><tspan x="201" y="1050">处置能力为主要出发点组织开展演练;</tspan></text></g>
<g id="p2-2a-d"><rect class="b" rx="5" x="194" y="1087" width="259" height="43"/><text class="t"><tspan x="201" y="1105">d)确保安全有序。在保证参演人员及设备设施</tspan><tspan x="201" y="1121">的安全的条件下组织开展演练。</tspan></text></g>
<g id="p2-3"><rect class="b" rx="5" x="658" y="1157" width="107" height="27"/><text class="t" x="665" y="1175">3、应急演练类型</text></g>
<g id="p2-3a"><rect class="b" rx="5" x="475" y="1157" width="162" height="27"/><text class="t" x="482" y="1175">本年度应急演练为综合演练</text></g>
<g id="p2-4"><rect class="b" rx="5" x="658" y="1612" width="107" height="27"/><text class="t" x="665" y="1630">4、应急演练内容</text></g>
<g id="p2-4-1"><rect class="b" rx="5" x="540" y="1221" width="96" height="27"/><text class="t" x="547" y="1239">4.1 预警与报告</text></g>
<g id="p2-4-1a"><rect class="b" rx="5" x="259" y="1212" width="259" height="43"/><text class="t"><tspan x="266" y="1230">根据事故情景，向相关部门人员发出预警信息</tspan><tspan x="266" y="1246">，并向有关部门和人员报告事故情况。</tspan></text></g>
<g id="p2-4-2"><rect class="b" rx="5" x="540" y="1307" width="96" height="27"/><text class="t" x="547" y="1325">4.2 指挥与协调</text></g>
<g id="p2-4-2a"><rect class="b" rx="5" x="259" y="1283" width="259" height="75"/><text class="t"><tspan x="266" y="1301">根据事故情景，成立应急指挥部，由公司董事</tspan><tspan x="266" y="1317">长杨智明担任总指挥，公司安全副总为副总指</tspan><tspan x="266" y="1333">挥调集应急救援队伍和相关资源，开展应急救</tspan><tspan x="266" y="1349">援行动。</tspan></text></g>
<g id="p2-4-3"><rect class="b" rx="5" x="553" y="1394" width="83" height="27"/><text class="t" x="560" y="1412">4.3 应急通讯</text></g>
<g id="p2-4-3a"><rect class="b" rx="5" x="272" y="1385" width="259" height="43"/><text class="t"><tspan x="279" y="1403">根据事故情景，在应急救援相关部门或人员之</tspan><tspan x="279" y="1419">间进行音频、视频信号或数据信息互通。</tspan></text></g>
<g id="p2-4-4"><rect class="b" rx="5" x="553" y="1472" width="83" height="27"/><text class="t" x="560" y="1490">4.4 事故监测</text></g>
<g id="p2-4-4a"><rect class="b" rx="5" x="272" y="1456" width="259" height="59"/><text class="t"><tspan x="279" y="1474">根据事故情景，对事故现场进行观察、分析或</tspan><tspan x="279" y="1490">测定，确定事故严重程度、影响范围和变化趋</tspan><tspan x="279" y="1506">势等。</tspan></text></g>
<g id="p2-4-5"><rect class="b" rx="5" x="540" y="1551" width="96" height="27"/><text class="t" x="547" y="1569">4.5 警戒与管制</text></g>
<g id="p2-4-5a"><rect class="b" rx="5" x="259" y="1543" width="259" height="43"/><text class="t"><tspan x="266" y="1561">根据事故情景，建立应急处置现场警戒区域，</tspan><tspan x="266" y="1577">实行交通管制，维护现场秩序。</tspan></text></g>
<g id="p2-4-6"><rect class="b" rx="5" x="540" y="1621" width="96" height="27"/><text class="t" x="547" y="1639">4.6 疏散与安置</text></g>
<g id="p2-4-6a"><rect class="b" rx="5" x="259" y="1613" width="259" height="43"/><text class="t"><tspan x="266" y="1631">根据事故情景，对事故可能波及范围内的相关</tspan><tspan x="266" y="1647">人员进行疏散、转移和安置。</tspan></text></g>
<g id="p2-4-7"><rect class="b" rx="5" x="553" y="1699" width="83" height="27"/><text class="t" x="560" y="1717">4.7 医疗卫生</text></g>
<g id="p2-4-7a"><rect class="b" rx="5" x="272" y="1683" width="259" height="59"/><text class="t"><tspan x="279" y="1701">根据事故情景，协调县人民医院，调集医疗卫</tspan><tspan x="279" y="1717">生专家和卫生应急队伍开展紧急医学救援，并</tspan><tspan x="279" y="1733">开展卫生监测和防疫工作。</tspan></text></g>
<g id="p2-4-8"><rect class="b" rx="5" x="553" y="1778" width="83" height="27"/><text class="t" x="560" y="1796">4.8 现场处置</text></g>
<g id="p2-4-8a"><rect class="b" rx="5" x="272" y="1770" width="259" height="43"/><text class="t"><tspan x="279" y="1788">根据事故情景，按照相应的应急预案和现场指</tspan><tspan x="279" y="1804">挥部要求对事故现场进行控制和处理。</tspan></text></g>
<g id="p2-4-9"><rect class="b" rx="5" x="553" y="1849" width="83" height="27"/><text class="t" x="560" y="1867">4.9 社会沟通</text></g>
<g id="p2-4-9a"><rect class="b" rx="5" x="272" y="1841" width="259" height="43"/><text class="t"><tspan x="279" y="1859">根据事故情景，召开新闻发布会或事故情况通</tspan><tspan x="279" y="1875">报会，通报事故有关情况。</tspan></text></g>
<g id="p2-4-10"><rect class="b" rx="5" x="546" y="1927" width="90" height="27"/><text class="t" x="553" y="1945">4.10 后期处置</text></g>
<g id="p2-4-10a"><rect class="b" rx="5" x="265" y="1911" width="259" height="59"/><text class="t"><tspan x="272" y="1929">根据事故情景，应急处置结束后，所开展的事</tspan><tspan x="272" y="1945">故损失评估、事故原因调查、事故现场清理和</tspan><tspan x="272" y="1961">相关善后工作。</tspan></text></g>
<g id="p2-4-11"><rect class="b" rx="5" x="570" y="2005" width="66" height="27"/><text class="t" x="577" y="2023">4.11 其他</text></g>
<g id="p2-4-11a"><rect class="b" rx="5" x="289" y="1997" width="259" height="43"/><text class="t"><tspan x="296" y="2015">根据相关行业(领域)安全生产特点所包含的其</tspan><tspan x="296" y="2031">他应急功能。</tspan></text></g>
<g id="p2-5"><rect class="b" rx="5" x="621" y="2462" width="144" height="27"/><text class="t" x="628" y="2480">5、综合演练组织与实施</text></g>
<g id="p2-5-1"><rect class="b" rx="5" x="516" y="2221" width="83" height="27"/><text class="t" x="523" y="2239">5.1 演练计划</text></g>
<g id="p2-5-1a"><rect class="b" rx="5" x="264" y="2068" width="230" height="27"/><text class="t" x="271" y="2086">演练计划应包括演练目的、类型(形式)、</text></g>
<g id="p2-5-1b"><rect class="b" rx="5" x="366" y="2122" width="128" height="27"/><text class="t" x="373" y="2140">时间：20_年6月25日</text></g>
<g id="p2-5-1c"><rect class="b" rx="5" x="235" y="2177" width="259" height="27"/><text class="t" x="242" y="2195">地点：松阳县供电局白沙生产管理用房工程，</text></g>
<g id="p2-5-1d"><rect class="b" rx="5" x="235" y="2232" width="259" height="43"/><text class="t"><tspan x="242" y="2250">演练主要内容：脚手架坍塌、触电事故、模板</tspan><tspan x="242" y="2266">及支架坍塌、火灾、物体打击;</tspan></text></g>
<g id="p2-5-1e"><rect class="b" rx="5" x="235" y="2302" width="259" height="43"/><text class="t"><tspan x="242" y="2320">参加单位：松阳县兴宇建设工程有限公司、白</tspan><tspan x="242" y="2336">沙生产管理用房项目部、县人民医院等，</tspan></text></g>
<g id="p2-5-1f"><rect class="b" rx="5" x="366" y="2372" width="128" height="27"/><text class="t" x="373" y="2390">经费预算为8650元。</text></g>
<g id="p2-5-2"><rect class="b" rx="5" x="516" y="2427" width="83" height="27"/><text class="t" x="523" y="2445">5.2 演练准备</text></g>
<g id="p2-5-3"><rect class="b" rx="5" x="453" y="2701" width="146" height="27"/><text class="t" x="460" y="2719">5.2.1 成立演练组织机构</text></g>
<g id="p2-5-3a"><rect class="b" rx="5" x="175" y="2482" width="259" height="75"/><text class="t"><tspan x="182" y="2500">综合演练通常成立演练领导小组，下设策划组</tspan><tspan x="182" y="2516">、执行组、保障组、评估组等专业工作组。根</tspan><tspan x="182" y="2532">据演练规模大小，其组织机构可进行调整。 a</tspan><tspan x="182" y="2548">)领导小组</tspan></text></g>
<g id="p2-5-3b"><rect class="b" rx="5" x="175" y="2584" width="259" height="75"/><text class="t"><tspan x="182" y="2602">负责演练活动筹备和实施过程中的组织领导工</tspan><tspan x="182" y="2618">作，具体负责审定演练工作方案、演练工作经</tspan><tspan x="182" y="2634">费、演练评估总结以及其他需要决定的重要事</tspan><tspan x="182" y="2650">项等。</tspan></text></g>
<g id="p2-5-3c"><rect class="b" rx="5" x="371" y="2688" width="63" height="27"/><text class="t" x="378" y="2706">b)策划组</text></g>
<g id="p2-5-3d"><rect class="b" rx="5" x="175" y="2742" width="259" height="59"/><text class="t"><tspan x="182" y="2760">负责编制演练工作方案、演练脚本、演练安全</tspan><tspan x="182" y="2776">保障方案或应急预案、宣传报道材料、工作总</tspan><tspan x="182" y="2792">结和改进计划等。</tspan></text></g>
<g id="p2-5-3e"><rect class="b" rx="5" x="371" y="2828" width="63" height="27"/><text class="t" x="378" y="2846">c)执行组</text></g>
<g id="p2-5-3f"><rect class="b" rx="5" x="175" y="2883" width="259" height="59"/><text class="t"><tspan x="182" y="2901">负责演练活动筹备及实施过程中与相关单位、</tspan><tspan x="182" y="2917">工作组的联络和协调、事故情景布置、参演人</tspan><tspan x="182" y="2933">员调度和演练进程控制等。</tspan></text></g>

<!-- 篇4 -->
<g id="p4"><rect x="789" y="3502" width="254" height="36" rx="18" fill="#f4b71d"/><text class="h" fill="#2a2204" x="806" y="3526">安全生产应急演练工作计划 篇4</text></g>
<g id="p4-intro"><rect class="y" rx="5" x="507" y="3468" width="259" height="107"/><text class="t"><tspan x="514" y="3486">为加强和推进全市安全生产应急演练工作，根</tspan><tspan x="514" y="3502">据x安监应函〔20_〕x号通知精神，按照《市</tspan><tspan x="514" y="3518">政府安委会关于开展20_年全市"安全生产月"</tspan><tspan x="514" y="3534">和"安全生产六安行"活动的通知》(x市安〔20</tspan><tspan x="514" y="3550">_〕x号)要求，现就我市深入开展20_年安全生</tspan><tspan x="514" y="3566">产应急演练专题行活动有关事项通知如下：</tspan></text></g>
<g id="p4-1"><rect class="y" rx="5" x="334" y="3041" width="149" height="27"/><text class="t" x="341" y="3059">一、提高认识，加强领导</text></g>
<g id="p4-1a"><rect class="y" rx="5" x="53" y="2969" width="259" height="171"/><text class="t"><tspan x="60" y="2987">安全生产应急演练是安全生产工作的重要组成</tspan><tspan x="60" y="3003">部分，是发现和改进应急管理薄弱环节的重要</tspan><tspan x="60" y="3019">抓手，是提高政府和企业保障生产安全和处置</tspan><tspan x="60" y="3035">生产安全事故能力、保障人民生命财产安全的</tspan><tspan x="60" y="3051">重要手段，也是安全生产工作的最后一道防线</tspan><tspan x="60" y="3067">。各县区、有关部门和单位要充分认识开展应</tspan><tspan x="60" y="3083">急演练工作的重要性和必要性，高度重视并切</tspan><tspan x="60" y="3099">实加强安全生产应急演练工作领导，明确工作</tspan><tspan x="60" y="3115">目标和任务，落实保障措施，确保安全生产应</tspan><tspan x="60" y="3131">急演练专题行活动落到实处。</tspan></text></g>
<g id="p4-2"><rect class="y" rx="5" x="334" y="3398" width="149" height="27"/><text class="t" x="341" y="3416">二、落实责任，扎实推进</text></g>
<g id="p4-2a"><rect class="y" rx="5" x="53" y="3168" width="259" height="123"/><text class="t"><tspan x="60" y="3186">一要突出重点。各地区、各单位要把应急演练</tspan><tspan x="60" y="3202">工作与"安全生产月"和"安全生产六安行"活动</tspan><tspan x="60" y="3218">结合起来，做到同时部署、严密组织、认真落</tspan><tspan x="60" y="3234">实。要结合重点行业专项整治和应急预案修订</tspan><tspan x="60" y="3250">等重点工作，针对汛期和重大活动等重点时段</tspan><tspan x="60" y="3266">，紧盯工业聚集区或高风险场所(岗位)等重点</tspan><tspan x="60" y="3282">区域开展应急演练。</tspan></text></g>
<g id="p4-2b"><rect class="y" rx="5" x="53" y="3318" width="259" height="187"/><text class="t"><tspan x="60" y="3336">二要强化演练。各县区安全生产监管部门至少</tspan><tspan x="60" y="3352">要组织开展一次以政府主导、部门联动、企业</tspan><tspan x="60" y="3368">参与的安全生产应急救援指挥演练。各有关行</tspan><tspan x="60" y="3384">业围绕监管的行业领域安全生产特点和重点，</tspan><tspan x="60" y="3400">也要有针对性地组织开展安全生产专项应急演</tspan><tspan x="60" y="3416">练工作，特别是非煤矿山、危险化学品、建筑</tspan><tspan x="60" y="3432">施工、医疗卫生、交通运输、粉尘涉爆、城市</tspan><tspan x="60" y="3448">燃气、劳动密集型企业等生产经营单位必须组</tspan><tspan x="60" y="3464">织开展形式多样的应急演练活动。要督促其他</tspan><tspan x="60" y="3480">企业结合本单位风险特点，全面开展车间、班</tspan><tspan x="60" y="3496">组一线员工现场处置方案应急演练。</tspan></text></g>
<g id="p4-2c"><rect class="y" rx="5" x="53" y="3531" width="259" height="123"/><text class="t"><tspan x="60" y="3549">三要积极评估。各地区、各单位要把应急演练</tspan><tspan x="60" y="3565">评估作为应急演练的一项重要内容，在每次演</tspan><tspan x="60" y="3581">练工作结束后，要参照《生产安全事故应急演</tspan><tspan x="60" y="3597">练评估规范》(AQ/T9009-20_)要求，积极开</tspan><tspan x="60" y="3613">展应急演练评估，撰写应急预案演练评估报告</tspan><tspan x="60" y="3629">，分析存在的问题，并对应急预案提出修订意</tspan><tspan x="60" y="3645">见，确保应急管理工作持续改进。</tspan></text></g>
<g id="p4-3"><rect class="y" rx="5" x="334" y="3974" width="149" height="27"/><text class="t" x="341" y="3992">三、协调推进，确保实效</text></g>
<g id="p4-3a"><rect class="y" rx="5" x="53" y="3680" width="259" height="187"/><text class="t"><tspan x="60" y="3698">一要加强督促。各县区安委会要把安全生产应</tspan><tspan x="60" y="3714">急演练专题行活动纳入安全生产月和年度安全</tspan><tspan x="60" y="3730">生产目标考核范围，加强情况跟踪、督查考核</tspan><tspan x="60" y="3746">，推动应急演练专题行活动扎实深入开展。各</tspan><tspan x="60" y="3762">县区安委会办公室要充分发挥综合协调、指导</tspan><tspan x="60" y="3778">作用，积极推动各行业管理部门组织开展重点</tspan><tspan x="60" y="3794">行业领域应急演练，形成统一协调、各司其责</tspan><tspan x="60" y="3810">的工作格局。要在组织应急演练专题行活动的</tspan><tspan x="60" y="3826">基础上，将应急演练作为一项经常性工作深入</tspan><tspan x="60" y="3842">广泛开展，不断推动安全生产应急管理工作创</tspan><tspan x="60" y="3858">新发展。</tspan></text></g>
<g id="p4-3b"><rect class="y" rx="5" x="53" y="3894" width="259" height="171"/><text class="t"><tspan x="60" y="3912">二要强化宣传。各地区、各单位要加大应急演</tspan><tspan x="60" y="3928">练专题行活动宣传力度，要邀请主流媒体，全</tspan><tspan x="60" y="3944">程采访报道典型应急演练活动;要收集整理应</tspan><tspan x="60" y="3960">急演练视频、图片等资料，集中在主流网站、</tspan><tspan x="60" y="3976">微博、微信平台推送应急演练专题报道;要制</tspan><tspan x="60" y="3992">作应急科普知识等宣传资料，面向公众开展应</tspan><tspan x="60" y="4008">急知识宣教普及，使社会公众了解防灾避险知</tspan><tspan x="60" y="4024">识，掌握自救互救能力;要以应急演练专题行</tspan><tspan x="60" y="4040">活动为契机，开展应急演练理论、技术等方面</tspan><tspan x="60" y="4056">的创新研究。</tspan></text></g>
<g id="p4-3c"><rect class="y" rx="5" x="53" y="4092" width="259" height="219"/><text class="t"><tspan x="60" y="4110">三要报送信息。各地区、各单位要落实专人负</tspan><tspan x="60" y="4126">责应急演练工作信息报送，并于6月16日前将</tspan><tspan x="60" y="4142">应急演练专题行活动联系人及联系方式、6月</tspan><tspan x="60" y="4158">30日前将20_年下半年应急演练计划报送市政</tspan><tspan x="60" y="4174">府安委会办公室。"安全生产月"期间，每周三</tspan><tspan x="60" y="4190">下午下班前将本地、本行业、本单位应急演练</tspan><tspan x="60" y="4206">活动开展情况报送市政府安委会办公室，报送</tspan><tspan x="60" y="4222">材料包括活动情况电子文本、视频、照片等。</tspan><tspan x="60" y="4238">7月25日前，要将本地、本行业、本单位应急</tspan><tspan x="60" y="4254">救援演练活动总结(含演练次数、参演人数、</tspan><tspan x="60" y="4270">投入演练资金数以及宣教次数、培训人数等情</tspan><tspan x="60" y="4286">况)和演练影像资料等报市政府安委会办公室</tspan><tspan x="60" y="4302">。</tspan></text></g>

<g id="watermarks">
<text class="wm" x="350" y="668" transform="rotate(-30 350 668)">树图 shutu.cn</text>
<text class="wm" x="355" y="1754" transform="rotate(-30 355 1754)">树图 shutu.cn</text>
<text class="wm" x="349" y="2685" transform="rotate(-30 349 2685)">树图 shutu.cn</text>
<text class="wm" x="346" y="3702" transform="rotate(-30 346 3702)">树图 shutu.cn</text>
<text class="wm" x="352" y="4585" transform="rotate(-30 352 4585)">树图 shutu.cn</text>
<text class="wm" x="1628" y="700" transform="rotate(-30 1628 700)">树图 shutu.cn</text>
<text class="wm" x="1628" y="1695" transform="rotate(-30 1628 1695)">树图 shutu.cn</text>
<text class="wm" x="1628" y="2690" transform="rotate(-30 1628 2690)">树图 shutu.cn</text>
<text class="wm" x="1610" y="3700" transform="rotate(-30 1610 3700)">树图 shutu.cn</text>
<text class="wm" x="1610" y="4595" transform="rotate(-30 1610 4595)">树图 shutu.cn</text>
</g>
</g>
</svg>
